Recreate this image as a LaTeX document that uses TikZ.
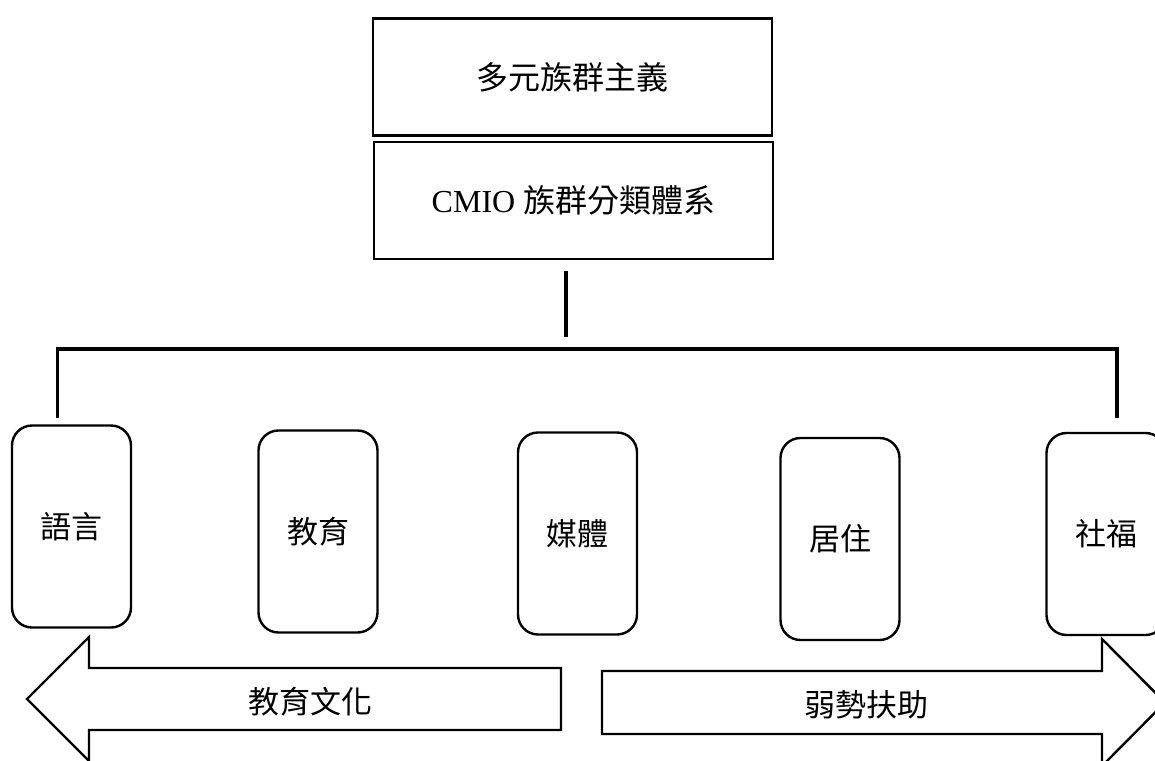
\documentclass[tikz,border=0pt]{standalone}
\usepackage{fontspec}
\setmainfont{Liberation Serif}
\newfontfamily\cjk{Noto Sans CJK TC}
\begin{document}
\begin{tikzpicture}[x=1pt,y=-1pt,
  sqbox/.style={draw=black,line width=2.6pt,minimum width=399pt,minimum height=117pt,inner sep=0pt,font=\fontsize{32}{38}\selectfont},
  rbox/.style={draw=black,line width=2.4pt,rounded corners=20pt,minimum width=119pt,minimum height=202pt,inner sep=0pt,font=\cjk\fontsize{31}{37}\selectfont},
  conn/.style={line width=3.6pt},
  bigarrow/.style={draw=black,line width=2.4pt,fill=white},
  lbl/.style={font=\cjk\fontsize{31}{37}\selectfont,inner sep=0pt}]
\useasboundingbox (0,0) rectangle (1155,760);
\clip (0,0) rectangle (1155,760);
% top boxes
\node[sqbox] (top) at (572.5,77) {\cjk 多元族群主義};
\node[sqbox] (cmio) at (573.5,200.5) {CMIO {\cjk 族群分類體系}};
% category boxes
\node[rbox] (yuyan) at (71.5,526.5) {語言};
\node[rbox] (jiaoyu) at (318,531.5) {教育};
\node[rbox] (meiti) at (577.5,533.5) {媒體};
\node[rbox] (juzhu) at (840,539) {居住};
\node[rbox] (shefu) at (1106,534) {社福};
% connectors
\coordinate (v1) at (566,271);
\coordinate (v2) at (566,337);
\coordinate (hl) at (57.5,349);
\coordinate (hr) at (1117,349);
\coordinate (tl) at (57.5,418);
\coordinate (tr) at (1117,418);
\draw[conn] (v1) -- (v2);
\draw[conn] (tl) -- (hl) -- (hr) -- (tr);
% arrows
\draw[bigarrow] (561,668) -- (89,668) -- (89,637) -- (27,699) -- (89,761) -- (89,730) -- (561,730) -- cycle;
\node[lbl] (left) at (310,702) {教育文化};
\draw[bigarrow] (602,671) -- (1102,671) -- (1102,639) -- (1165,702.5) -- (1102,766) -- (1102,734) -- (602,734) -- cycle;
\node[lbl] (right) at (866,705) {弱勢扶助};
\end{tikzpicture}
\end{document}
